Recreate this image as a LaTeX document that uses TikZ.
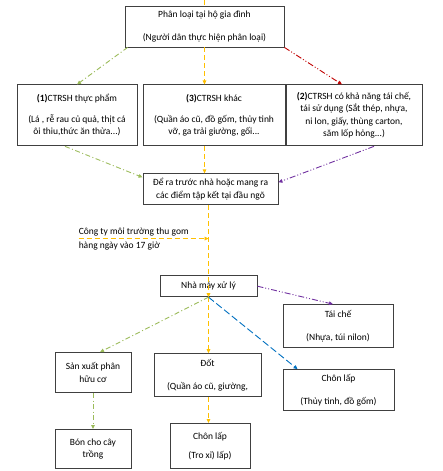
\documentclass[tikz,border=0pt]{standalone}
\usepackage{fontspec}
\setmainfont{Carlito}
\usepackage{tikz}
\usepackage{xcolor}
\usetikzlibrary{arrows.meta, positioning}

\definecolor{leaf}{HTML}{9BBB59}
\definecolor{gold}{HTML}{FFC000}
\definecolor{wine}{HTML}{C00000}
\definecolor{plum}{HTML}{7030A0}
\definecolor{sea}{HTML}{0070C0}

\begin{document}
\begin{tikzpicture}[
    x=1pt, y=-1pt,
    box/.style={rectangle, draw=black!75, line width=0.9pt, fill=white, align=center, inner sep=0pt,
        font=\fontsize{9.5}{12.5}\selectfont},
    note/.style={align=left, inner sep=0pt, font=\fontsize{9.5}{14}\selectfont},
    arrow/.style={-{Triangle[length=4pt, width=3.6pt]}, line width=0.9pt},
    leafline/.style={arrow, leaf, dash pattern=on 5pt off 2.5pt on 1pt off 2.5pt},
    goldline/.style={arrow, gold, dash pattern=on 5pt off 3pt},
    wineline/.style={arrow, wine, dash pattern=on 6pt off 2pt on 1pt off 2pt on 1pt off 2pt},
    plumline/.style={arrow, plum, dash pattern=on 6pt off 2pt on 1pt off 2pt on 1pt off 2pt},
    sealine/.style={arrow, sea, dash pattern=on 7pt off 3pt}
]
    \useasboundingbox (0,0) rectangle (442,471);

    % Sorting at home
    \node[box, minimum width=159pt, minimum height=41pt] (cat) at (204.5,26.5)
        {Phân loại tại hộ gia đình\\[10pt](Người dân thực hiện phân loại)};

    % Three kinds of waste
    \node[box, minimum width=120pt, minimum height=61pt, below=37pt of cat, xshift=-127.5pt] (food)
        {\textbf{(1)}CTRSH thực phẩm\\[8pt](Lá , rễ rau củ quả, thịt cá\\ôi thiu,thức ăn thừa...)};
    \node[box, minimum width=142pt, minimum height=61pt, below=37pt of cat, xshift=9.5pt] (other)
        {\textbf{(3)}CTRSH khác\\[8pt](Quần áo cũ, đồ gốm, thủy tinh\\vỡ, ga trải giường, gối...};
    \node[box, minimum width=136pt, minimum height=61pt, below=37pt of cat, xshift=149.5pt] (recycle)
        {\textbf{(2)}CTRSH có khả năng tái chế,\\tái sử dụng (Sắt thép, nhựa,\\ni lon, giấy, thùng carton,\\săm lốp hỏng...)};

    % Collection
    \node[box, minimum width=135pt, minimum height=31pt, below=27pt of other, xshift=-3.5pt] (gather)
        {Để ra trước nhà hoặc mang ra\\các điểm tập kết tại đầu ngõ};
    \node[note, below=22pt of gather.south west, anchor=north west, xshift=-64pt] (company)
        {Công ty môi trường thu gom\\hàng ngày vào 17 giờ};

    % Treatment
    \node[box, minimum width=97pt, minimum height=21pt, below=70pt of gather, xshift=-2pt] (plant) {Nhà máy xử lý};
    \node[box, minimum width=110pt, minimum height=43pt, below=7pt of plant, xshift=129.5pt] (reuse)
        {Tái chế\\[10pt](Nhựa, túi nilon)};
    \node[box, minimum width=107pt, minimum height=43pt, below=56pt of plant, xshift=-1pt] (burn)
        {Đốt\\[10pt](Quần áo cũ, giường,};
    \node[box, minimum width=111pt, minimum height=41pt, below=72pt of plant, xshift=130pt] (landfill)
        {Chôn lấp\\[10pt](Thủy tinh, đồ gốm)};
    \node[box, minimum width=76pt, minimum height=40pt, below=55pt of plant, xshift=-115.5pt] (compost)
        {Sản xuất phân\\hữu cơ};
    \node[box, minimum width=76pt, minimum height=39pt, below=36pt of compost] (fert)
        {Bón cho cây\\trồng};
    \node[box, minimum width=80pt, minimum height=45pt, below=26pt of burn, xshift=2.5pt] (ash)
        {Chôn lấp\\[7pt](Tro xỉ) lấp)};

    \coordinate (incoming) at (cat.north |- 0,0);

    % Arrows
    \draw[goldline, -] (incoming) -- (cat.north);
    \draw[leafline] ([xshift=3pt]cat.south west) -- (food.north);
    \draw[goldline] (cat.south) -- (cat.south |- other.north);
    \draw[wineline] (cat.south east) -- ([xshift=-12pt]recycle.north);

    \draw[leafline] ([xshift=-12pt]food.south) -- ([yshift=-4pt]gather.north west);
    \draw[goldline] (other.south -| cat.south) -- (gather.north -| cat.south);
    \draw[plumline] ([xshift=20pt]recycle.south) -- ([yshift=7pt]gather.east);

    \draw[goldline] (gather.south -| plant.south) -- (plant.south);
    \draw[goldline] (company.west) -- (company.west -| plant.south);

    \draw[plumline] (plant.east) -- ([xshift=-5pt]reuse.north);
    \draw[goldline] (plant.south) -- (burn.north -| plant.south);
    \draw[sealine] (plant.south) -- ([xshift=15pt]landfill.north west);
    \draw[leafline] (plant.south) -- ([xshift=7pt]compost.north);
    \draw[leafline] (compost.south) -- (fert.north);
    \draw[goldline] (burn.south -| plant.south) -- (ash.north -| plant.south);

\end{tikzpicture}
\end{document}
